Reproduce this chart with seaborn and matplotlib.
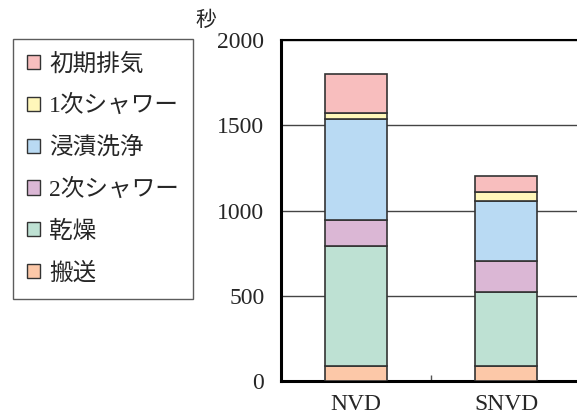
import matplotlib
matplotlib.use("Agg")
import matplotlib.pyplot as plt
import matplotlib.patches as mpatches
from matplotlib.ticker import FixedLocator
import seaborn as sns
import pandas as pd

# data (seconds), bottom -> top
groups = ["NVD", "SNVD"]
steps = ["搬送", "乾燥", "2次シャワー", "浸漬洗浄", "1次シャワー", "初期排気"]
nvd = [90, 700, 155, 590, 35, 230]
snvd = [90, 430, 185, 350, 55, 90]
colors = ["#FCC8A8", "#BEE1D3", "#DBB7D5", "#B9DAF3", "#FFF7BA", "#F8BEBE"]

sns.set_style("white")
plt.rcParams["font.family"] = ["Liberation Serif", "Noto Sans CJK JP"]

df = pd.DataFrame({"group": groups})
fig = plt.figure(figsize=(5.77, 4.18), dpi=100)
ax = fig.add_axes([0.487, 0.0885, 0.52, 0.8155])

bottom = [0, 0]
for i, name in enumerate(steps):
    df[name] = [nvd[i], snvd[i]]
    sns.barplot(data=df, x="group", y=name, color=colors[i], bottom=bottom,
                width=0.41, edgecolor="#333333", linewidth=1.2, ax=ax,
                saturation=1, zorder=3)
    bottom = [bottom[0] + nvd[i], bottom[1] + snvd[i]]

ax.set_ylim(0, 2000)
ax.set_xlim(-0.5, 1.5)
ax.set_yticks([0, 500, 1000, 1500, 2000])
ax.yaxis.grid(True, color="#444444", linewidth=1.0, zorder=0)
ax.xaxis.grid(False)
ax.set_xlabel("")
ax.set_ylabel("")
ax.tick_params(axis="y", length=0, pad=12, labelsize=17)
ax.tick_params(axis="x", length=0, pad=9, labelsize=17)
ax.xaxis.set_minor_locator(FixedLocator([0.5]))
ax.tick_params(axis="x", which="minor", direction="in", length=4, width=1, color="#555555", bottom=True)
for s in ["left", "bottom"]:
    ax.spines[s].set_linewidth(2.2)
    ax.spines[s].set_color("black")
ax.spines["top"].set_linewidth(1.5)
ax.spines["top"].set_color("black")
ax.spines["right"].set_visible(False)

fig.text(0.338, 0.948, "秒", fontsize=15, ha="left", va="center")

handles = [mpatches.Patch(facecolor=colors[i], edgecolor="#333333", linewidth=1.0, label=steps[i])
           for i in range(len(steps) - 1, -1, -1)]
leg = fig.legend(handles=handles, loc="upper left", bbox_to_anchor=(0.022, 0.907),
                 frameon=True, fancybox=False, fontsize=17, handlelength=0.55, handleheight=0.55,
                 handletextpad=0.4, labelspacing=0.83, borderpad=0.6, borderaxespad=0)
leg.get_frame().set_edgecolor("#333333")
leg.get_frame().set_linewidth(1.0)

fig.savefig("out.png", dpi=100)
